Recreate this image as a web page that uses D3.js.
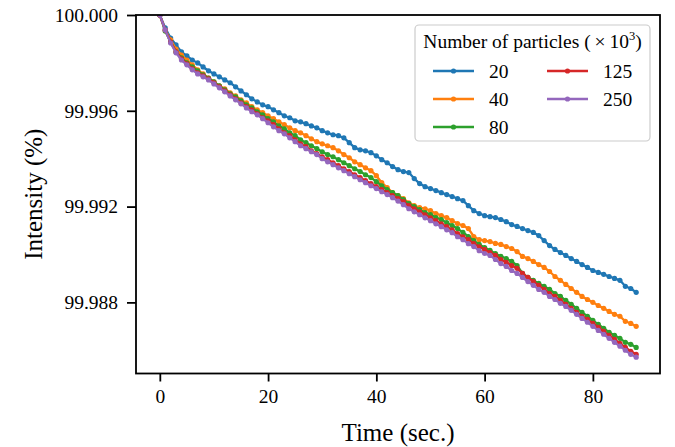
<!DOCTYPE html>
<html>
<head>
<meta charset="utf-8">
<script src="https://cdn.jsdelivr.net/npm/d3@7"></script>
<style>
  body { margin: 0; background: #fff; }
  svg { display: block; }
  text { font-family: "Liberation Serif", "Times New Roman", serif; }
</style>
</head>
<body>
<div id="chart"></div>
<script>
// time samples (sec.), one per second
const seconds = d3.range(0, 89);

// intensity (%) per particle count (x 10^3)
const p20 = [100.00000,99.99946,99.99904,99.99875,99.99846,99.99829,99.99812,99.99800,99.99783,99.99767,
  99.99754,99.99742,99.99729,99.99717,99.99700,99.99683,99.99667,99.99650,99.99637,99.99625,
  99.99617,99.99604,99.99592,99.99579,99.99571,99.99558,99.99554,99.99546,99.99537,99.99529,
  99.99517,99.99508,99.99500,99.99496,99.99487,99.99467,99.99446,99.99437,99.99433,99.99425,
  99.99412,99.99396,99.99383,99.99367,99.99354,99.99346,99.99342,99.99317,99.99296,99.99283,
  99.99275,99.99267,99.99258,99.99250,99.99242,99.99233,99.99225,99.99204,99.99183,99.99171,
  99.99162,99.99158,99.99154,99.99146,99.99137,99.99125,99.99117,99.99108,99.99100,99.99092,
  99.99079,99.99058,99.99037,99.99021,99.99008,99.98996,99.98983,99.98971,99.98958,99.98946,
  99.98933,99.98925,99.98917,99.98908,99.98900,99.98892,99.98867,99.98858,99.98842];

const p40 = [100.00000,99.99937,99.99896,99.99858,99.99833,99.99812,99.99792,99.99771,99.99754,99.99737,
  99.99721,99.99704,99.99692,99.99675,99.99662,99.99646,99.99633,99.99617,99.99604,99.99592,
  99.99579,99.99567,99.99554,99.99542,99.99529,99.99517,99.99508,99.99496,99.99483,99.99471,
  99.99462,99.99454,99.99446,99.99433,99.99417,99.99404,99.99387,99.99375,99.99362,99.99350,
  99.99329,99.99300,99.99279,99.99258,99.99246,99.99233,99.99216,99.99204,99.99196,99.99191,
  99.99183,99.99171,99.99162,99.99154,99.99141,99.99129,99.99121,99.99108,99.99075,99.99062,
  99.99058,99.99054,99.99046,99.99042,99.99033,99.99025,99.99012,99.98992,99.98983,99.98971,
  99.98958,99.98946,99.98929,99.98908,99.98892,99.98875,99.98858,99.98842,99.98825,99.98812,
  99.98800,99.98787,99.98775,99.98762,99.98750,99.98742,99.98721,99.98712,99.98700];

const p80 = [100.00000,99.99933,99.99887,99.99846,99.99821,99.99800,99.99783,99.99767,99.99750,99.99737,
  99.99721,99.99704,99.99687,99.99671,99.99658,99.99642,99.99625,99.99612,99.99596,99.99583,
  99.99567,99.99554,99.99537,99.99525,99.99508,99.99496,99.99479,99.99467,99.99454,99.99442,
  99.99429,99.99417,99.99408,99.99396,99.99383,99.99371,99.99358,99.99346,99.99333,99.99321,
  99.99304,99.99287,99.99271,99.99258,99.99246,99.99229,99.99212,99.99200,99.99187,99.99175,
  99.99167,99.99154,99.99146,99.99133,99.99121,99.99108,99.99092,99.99075,99.99058,99.99042,
  99.99029,99.99017,99.99004,99.98992,99.98983,99.98971,99.98954,99.98921,99.98904,99.98892,
  99.98879,99.98867,99.98854,99.98837,99.98825,99.98808,99.98792,99.98775,99.98758,99.98742,
  99.98725,99.98708,99.98692,99.98675,99.98662,99.98650,99.98633,99.98625,99.98612];

const p125 = [100.00000,99.99937,99.99887,99.99846,99.99817,99.99796,99.99775,99.99758,99.99746,99.99733,
  99.99717,99.99700,99.99683,99.99667,99.99650,99.99633,99.99617,99.99604,99.99587,99.99571,
  99.99558,99.99542,99.99525,99.99508,99.99496,99.99479,99.99462,99.99450,99.99433,99.99421,
  99.99408,99.99396,99.99383,99.99371,99.99358,99.99346,99.99333,99.99321,99.99308,99.99296,
  99.99283,99.99271,99.99258,99.99246,99.99233,99.99221,99.99204,99.99191,99.99178,99.99166,
  99.99153,99.99141,99.99128,99.99116,99.99103,99.99087,99.99074,99.99062,99.99045,99.99032,
  99.99021,99.99008,99.98996,99.98979,99.98967,99.98954,99.98942,99.98921,99.98904,99.98887,
  99.98871,99.98854,99.98837,99.98825,99.98808,99.98792,99.98775,99.98758,99.98742,99.98729,
  99.98712,99.98696,99.98679,99.98662,99.98646,99.98629,99.98612,99.98596,99.98583];

const p250 = [100.00000,99.99937,99.99883,99.99842,99.99812,99.99792,99.99771,99.99754,99.99742,99.99729,
  99.99712,99.99696,99.99679,99.99662,99.99646,99.99629,99.99612,99.99596,99.99583,99.99567,
  99.99550,99.99533,99.99517,99.99504,99.99487,99.99471,99.99454,99.99442,99.99429,99.99417,
  99.99400,99.99387,99.99375,99.99362,99.99350,99.99337,99.99325,99.99312,99.99300,99.99287,
  99.99275,99.99262,99.99250,99.99237,99.99223,99.99208,99.99191,99.99178,99.99166,99.99153,
  99.99141,99.99128,99.99116,99.99103,99.99091,99.99074,99.99062,99.99045,99.99033,99.99016,
  99.99004,99.98996,99.98979,99.98962,99.98950,99.98933,99.98921,99.98904,99.98887,99.98871,
  99.98854,99.98842,99.98825,99.98812,99.98796,99.98783,99.98767,99.98750,99.98733,99.98717,
  99.98700,99.98683,99.98667,99.98650,99.98633,99.98617,99.98600,99.98583,99.98571];

const seriesNames = ["20", "40", "80", "125", "250"];
const seriesValues = [p20, p40, p80, p125, p250];
const colors = ["#1f77b4", "#ff7f0e", "#2ca02c", "#d62728", "#9467bd"];

const xTicks = [0, 20, 40, 60, 80];
const yTicks = [99.988, 99.992, 99.996, 100.000];

const W = 675, H = 447;
const m = {left: 136, right: 660, top: 15, bottom: 373.5};
const serif = '"Liberation Serif", "Times New Roman", serif';

const svg = d3.select('#chart').append('svg')
    .attr('width', W)
    .attr('height', H);

const x = d3.scaleLinear().domain([-4.4, 92.4]).range([m.left, m.right]);
const y = d3.scaleLinear().domain([99.98503, 100.0]).range([m.bottom, m.top]);

svg.append('clipPath').attr('id', 'plot')
  .append('rect')
    .attr('x', m.left).attr('y', m.top)
    .attr('width', m.right - m.left).attr('height', m.bottom - m.top);

const line = d3.line()
    .x((d, i) => x(seconds[i]))
    .y(d => y(d));

const plot = svg.append('g').attr('clip-path', 'url(#plot)');

seriesValues.forEach((vals, k) => {
  const g = plot.append('g');
  g.append('path')
    .datum(vals)
    .attr('d', line)
    .attr('fill', 'none')
    .attr('stroke', colors[k])
    .attr('stroke-width', 2.3)
    .attr('stroke-linejoin', 'round');
  g.selectAll('circle')
    .data(vals)
    .enter()
    .append('circle')
    .attr('cx', (d, i) => x(seconds[i]))
    .attr('cy', d => y(d))
    .attr('r', 2.6)
    .attr('fill', colors[k]);
});

// axes
const xAxis = d3.axisBottom(x).tickValues(xTicks).tickSize(8).tickPadding(8)
    .tickFormat(d3.format('d'));
const yAxis = d3.axisLeft(y).tickValues(yTicks).tickSize(9).tickPadding(9)
    .tickFormat(d3.format('.3f'));

const gx = svg.append('g').attr('transform', `translate(0,${m.bottom})`).call(xAxis);
const gy = svg.append('g').attr('transform', `translate(${m.left},0)`).call(yAxis);

[gx, gy].forEach(g => {
  g.attr('font-family', serif).attr('font-size', 19.5);
  g.select('.domain').remove();
  g.selectAll('.tick line').attr('stroke', '#000').attr('stroke-width', 1.8);
  g.selectAll('.tick text')
    .attr('font-family', serif)
    .attr('font-size', 19.5)
    .attr('fill', '#000');
});

svg.append('rect')
    .attr('x', m.left).attr('y', m.top)
    .attr('width', m.right - m.left).attr('height', m.bottom - m.top)
    .attr('fill', 'none')
    .attr('stroke', '#000')
    .attr('stroke-width', 1.8);

svg.append('text')
    .attr('x', (m.left + m.right) / 2)
    .attr('y', 441)
    .attr('text-anchor', 'middle')
    .attr('font-family', serif)
    .attr('font-size', 25)
    .text('Time (sec.)');

svg.append('text')
    .attr('transform', `translate(33,${(m.top + m.bottom) / 2}) rotate(-90)`)
    .attr('text-anchor', 'middle')
    .attr('dominant-baseline', 'central')
    .attr('font-family', serif)
    .attr('font-size', 25)
    .text('Intensity (%)');

// legend
const lg = svg.append('g').attr('font-family', serif);
lg.append('rect')
    .attr('x', 415).attr('y', 25)
    .attr('width', 235).attr('height', 116)
    .attr('rx', 4)
    .attr('fill', '#fff').attr('fill-opacity', 0.8)
    .attr('stroke', '#cccccc').attr('stroke-width', 1.2);

const title = lg.append('text')
    .attr('x', 532.5).attr('y', 48)
    .attr('text-anchor', 'middle')
    .attr('font-family', serif)
    .attr('font-size', 19.5);
title.append('tspan').text('Number of particles (\u2009\u00d7\u200910');
title.append('tspan').attr('font-size', 12.5).attr('dy', -8).text('3');
title.append('tspan').attr('dy', 8).text(')');

const colX = [433, 547];
const rowY = [71, 99, 127];
seriesNames.forEach((name, k) => {
  const cx = colX[k < 3 ? 0 : 1];
  const cy = rowY[k < 3 ? k : k - 3];
  lg.append('line')
    .attr('x1', cx).attr('x2', cx + 41)
    .attr('y1', cy).attr('y2', cy)
    .attr('stroke', colors[k]).attr('stroke-width', 2.3);
  lg.append('circle')
    .attr('cx', cx + 20.5).attr('cy', cy).attr('r', 2.6)
    .attr('fill', colors[k]);
  lg.append('text')
    .attr('x', cx + 56).attr('y', cy + 6.5)
    .attr('font-family', serif)
    .attr('font-size', 19.5)
    .text(name);
});
</script>
</body>
</html>
